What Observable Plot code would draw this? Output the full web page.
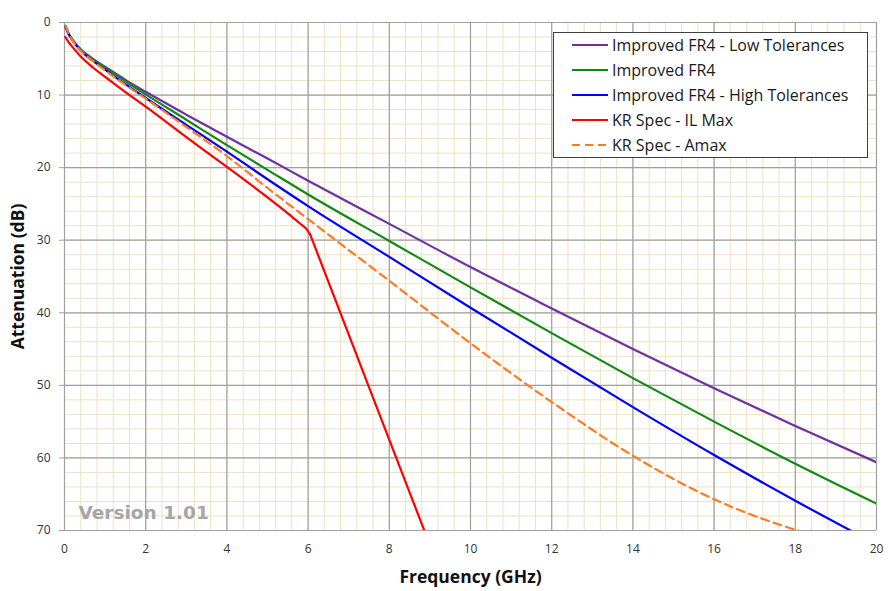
<!DOCTYPE html>
<html><head><meta charset="utf-8">
<script src="https://cdn.jsdelivr.net/npm/d3@7"></script>
<script src="https://cdn.jsdelivr.net/npm/@observablehq/plot@0.6"></script>
<style>
body{margin:0;background:#fff;font-family:"Open Sans",sans-serif;}
#wrap{position:relative;width:894px;height:591px;}
#legend{position:absolute;left:553px;top:32px;width:315px;height:126px;border:1px solid #404040;background:#fff;box-sizing:border-box;}
.row{position:absolute;left:18px;height:25px;display:flex;align-items:center;font-size:16px;color:#1a1a1a;white-space:nowrap;}
.row svg{margin-right:4px;}
</style></head><body><div id="wrap"></div>
<script>
// ---- data ----
const xTicks = [0, 2, 4, 6, 8, 10, 12, 14, 16, 18, 20];
const yTicks = [0, 10, 20, 30, 40, 50, 60, 70];

const seriesNames = ["Improved FR4 - Low Tolerances", "Improved FR4", "Improved FR4 - High Tolerances", "KR Spec - IL Max", "KR Spec - Amax"];
const seriesColors = ["#7030a0", "#108a10", "#0000ff", "#ff0000", "#ff7a20"];

const freqFR4 = [0.02, 0.1, 0.2, 0.4, 0.7, 1, 1.5, 2, 3, 4, 5, 6, 8, 10, 12, 14, 16, 18, 20];
const lowTol  = [0.5, 1.5, 2.4, 3.7, 5.0, 6.1, 7.9, 9.55, 12.7, 15.75, 18.75, 21.8, 27.75, 33.7, 39.4, 45.0, 50.4, 55.6, 60.6];
const improved= [0.5, 1.5, 2.4, 3.8, 5.1, 6.2, 8.1, 9.9, 13.4, 16.9, 20.3, 23.7, 30.1, 36.5, 42.8, 49.0, 55.0, 60.8, 66.3];
const highTol = [0.5, 1.6, 2.5, 3.9, 5.3, 6.5, 8.5, 10.4, 14.1, 17.8, 21.6, 25.3, 32.3, 39.3, 46.2, 53.0, 59.6, 65.9, 71.9];

const freqIL  = [0.02, 0.1, 0.2, 0.4, 0.7, 1, 1.5, 2, 3, 4, 5, 5.5, 5.8, 5.95, 6.05, 8, 9];
const ilMax   = [2.0, 2.7, 3.4, 4.7, 6.2, 7.5, 9.6, 11.6, 15.8, 19.9, 24.1, 26.3, 27.7, 28.4, 29.2, 57.5, 72.0];
const ilKink  = 6.05;

const freqAmax= [0.02, 0.1, 0.2, 0.4, 0.7, 1, 1.5, 2, 3, 4, 5, 6, 8, 10, 12, 14, 16, 17, 18, 19];
const amax    = [0.4, 1.5, 2.5, 3.9, 5.3, 6.6, 8.6, 10.5, 14.4, 18.4, 22.8, 27.1, 35.6, 44.2, 52.3, 59.7, 65.7, 68.0, 69.9, 71.5];

// ---- build table ----
function rows(fs, vs, s) { return fs.map((f, i) => ({f, dB: vs[i], s})); }
const ilRows = rows(freqIL, ilMax, 3);
const minorX = d3.range(0, 20.001, 0.4).map(v => +v.toFixed(2));
const minorY = d3.range(0, 70.001, 2);

const lineOpts = (i, extra = {}) => ({x: "f", y: "dB", stroke: seriesColors[i], strokeWidth: 2.2, curve: "monotone-x", clip: true, ...extra});

const lineMarks = [
  Plot.line(rows(freqFR4, lowTol, 0), lineOpts(0)),
  Plot.line(rows(freqFR4, improved, 1), lineOpts(1)),
  Plot.line(rows(freqFR4, highTol, 2), lineOpts(2)),
  Plot.line(rows(freqAmax, amax, 4), lineOpts(4, {strokeDasharray: "8,5"})),
  Plot.line(ilRows.filter(d => d.f <= ilKink), lineOpts(3)),
  Plot.line(ilRows.filter(d => d.f >= ilKink), lineOpts(3, {curve: "linear"}))
];

const chart = Plot.plot({
  width: 894, height: 591,
  marginLeft: 64, marginRight: 18, marginTop: 22, marginBottom: 61,
  style: {fontFamily: "'Open Sans', sans-serif", fontSize: "12px", background: "#fff", overflow: "visible"},
  x: {domain: [0, 20]},
  y: {domain: [0, 70], reverse: true},
  marks: [
    Plot.ruleX(minorX, {stroke: "#efe2c3", strokeWidth: 1}),
    Plot.ruleY(minorY, {stroke: "#efe2c3", strokeWidth: 1}),
    Plot.ruleX(xTicks, {stroke: "#a0a0a0", strokeWidth: 1.2}),
    Plot.ruleY(yTicks, {stroke: "#a0a0a0", strokeWidth: 1.2}),
    Plot.text(["Version 1.01"], {frameAnchor: "bottom-left", dx: 14, dy: -12, textAnchor: "start", lineAnchor: "bottom",
      fontSize: 18.5, fontWeight: "bold", fill: "#a6a6a6", fontFamily: "'DejaVu Sans', sans-serif"}),
    ...lineMarks,
    Plot.axisY({ticks: yTicks, tickSize: 5, tickPadding: 9, label: null, stroke: "#a0a0a0", fill: "#333", fontSize: 12}),
    Plot.axisX({ticks: xTicks, tickSize: 0, tickPadding: 14, label: null, fill: "#333", fontSize: 12}),
    Plot.text(["Frequency (GHz)"], {frameAnchor: "bottom", dy: 47, lineAnchor: "middle", fontSize: 17.5, fontWeight: "bold", fill: "#111"}),
    Plot.text(["Attenuation (dB)"], {frameAnchor: "left", dx: -46, rotate: -90, lineAnchor: "middle", textAnchor: "middle", fontSize: 17.5, fontWeight: "bold", fill: "#111"})
  ]
});

const wrap = document.getElementById("wrap");
wrap.appendChild(chart);

// ---- legend ----
const legend = document.createElement("div");
legend.id = "legend";
seriesNames.forEach((name, i) => {
  const row = document.createElement("div");
  row.className = "row";
  row.style.top = (-1 + i * 25.2) + "px";
  const dash = i === 4 ? ' stroke-dasharray="8,5"' : "";
  row.innerHTML = `<svg width="36" height="6"><line x1="0" y1="3" x2="36" y2="3" stroke="${seriesColors[i]}" stroke-width="2.2"${dash}/></svg><span>${name}</span>`;
  legend.appendChild(row);
});
wrap.appendChild(legend);
</script>
</body></html>
